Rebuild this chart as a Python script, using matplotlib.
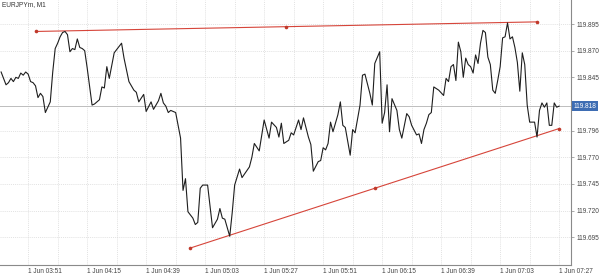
import pandas as pd
import matplotlib
matplotlib.use('Agg')
import matplotlib.pyplot as plt
import matplotlib.transforms as mtransforms

# EURJPYm M1 closes, minutes after 03:40 on 1 Jun
start = pd.Timestamp('2023-06-01 03:40')

minutes = [0, 2, 3, 4, 5, 6, 7, 8, 9, 10,
           11, 12, 13, 14, 15, 16, 17, 18, 20, 21,
           22, 23, 24, 25, 26, 27, 28, 29, 30, 31,
           32, 33, 34, 35, 37, 38, 40, 41, 42, 43,
           44, 46, 47, 49, 50, 52, 54, 55, 56, 58,
           59, 61, 62, 64, 65, 66, 67, 68, 69, 71,
           73, 74, 75, 76, 78, 79, 80, 81, 82, 84,
           86, 87, 88, 89, 90, 91, 93, 94, 95, 97,
           98, 101, 102, 103, 105, 107, 109, 110, 112, 113,
           114, 115, 117, 118, 119, 121, 122, 123, 125, 126,
           127, 129, 130, 131, 132, 133, 134, 135, 137, 138,
           139, 140, 142, 143, 144, 146, 147, 148, 150, 151,
           152, 154, 155, 156, 157, 158, 159, 161, 162, 163,
           165, 166, 167, 169, 170, 171, 172, 173, 174, 175,
           176, 178, 180, 181, 182, 183, 184, 185, 186, 187,
           188, 189, 190, 191, 192, 193, 194, 195, 196, 197,
           198, 199, 200, 201, 202, 203, 204, 205, 206, 207,
           208, 209, 210, 211, 212, 213, 214, 215, 216, 217,
           218, 219, 220, 221, 222, 223, 224, 225, 226, 227]

prices = [119.850, 119.838, 119.840, 119.844, 119.841, 119.845, 119.844, 119.849, 119.847, 119.850,
          119.848, 119.841, 119.840, 119.837, 119.826, 119.830, 119.827, 119.812, 119.822, 119.850,
          119.872, 119.877, 119.883, 119.887, 119.888, 119.885, 119.869, 119.872, 119.871, 119.881,
          119.873, 119.872, 119.870, 119.854, 119.819, 119.820, 119.824, 119.836, 119.835, 119.855,
          119.844, 119.868, 119.871, 119.877, 119.863, 119.841, 119.833, 119.831, 119.822, 119.829,
          119.813, 119.822, 119.815, 119.823, 119.830, 119.821, 119.818, 119.812, 119.814, 119.812,
          119.788, 119.739, 119.750, 119.719, 119.713, 119.707, 119.709, 119.741, 119.744, 119.744,
          119.704, 119.708, 119.712, 119.722, 119.713, 119.712, 119.696, 119.718, 119.744, 119.759,
          119.751, 119.761, 119.770, 119.783, 119.776, 119.805, 119.788, 119.803, 119.798, 119.789,
          119.802, 119.783, 119.786, 119.793, 119.791, 119.805, 119.796, 119.807, 119.789, 119.782,
          119.757, 119.766, 119.767, 119.779, 119.777, 119.783, 119.803, 119.794, 119.810, 119.822,
          119.800, 119.798, 119.772, 119.796, 119.793, 119.819, 119.847, 119.848, 119.830, 119.819,
          119.858, 119.869, 119.802, 119.812, 119.838, 119.794, 119.825, 119.814, 119.796, 119.788,
          119.811, 119.808, 119.800, 119.791, 119.792, 119.783, 119.796, 119.802, 119.810, 119.812,
          119.836, 119.833, 119.828, 119.844, 119.841, 119.855, 119.857, 119.842, 119.878, 119.869,
          119.845, 119.863, 119.857, 119.855, 119.849, 119.866, 119.858, 119.877, 119.889, 119.887,
          119.864, 119.857, 119.833, 119.830, 119.842, 119.855, 119.882, 119.883, 119.896, 119.881,
          119.883, 119.873, 119.859, 119.832, 119.868, 119.857, 119.819, 119.803, 119.803, 119.803,
          119.789, 119.814, 119.821, 119.817, 119.821, 119.800, 119.800, 119.821, 119.817, 119.818]

# trendlines (minute offset, price)
upper_min = [14, 218]
upper_price = [119.888, 119.897]
lower_min = [77, 227]
lower_price = [119.685, 119.797]

ytick_vals = [119.695, 119.720, 119.745, 119.770, 119.795, 119.845, 119.870, 119.895]
ytick_labels = ['119.695', '119.720', '119.745', '119.770', '119.796', '119.845', '119.870', '119.895']

times = start + pd.to_timedelta(minutes, unit='m')
last_price = prices[-1]

plt.rcParams['font.family'] = ['Liberation Sans', 'DejaVu Sans']

fig = plt.figure(figsize=(6, 2.76), dpi=100)
ax = fig.add_axes([0, 0.04, 0.952, 0.96])

grid_kw = dict(color='#d8d8d8', lw=0.5, ls=(0, (1.5, 1.5)), zorder=0)
xticks = pd.date_range('2023-06-01 03:51', periods=10, freq='24min')
xgrid = pd.date_range('2023-06-01 03:51', periods=20, freq='12min')
for g in xgrid:
    ax.axvline(g, **grid_kw)
for v in ytick_vals:
    ax.axhline(v, **grid_kw)

ax.axhline(last_price, color='#bdbdbd', lw=0.7, zorder=1)
ax.plot(times, prices, color='#1e1e1e', lw=0.8, zorder=3)

red = '#d6453a'
for mins, pr in [(upper_min, upper_price), (lower_min, lower_price)]:
    t = start + pd.to_timedelta(mins, unit='m')
    ax.plot(t, pr, color=red, lw=0.8, zorder=2)
    mid_t = t[0] + (t[1] - t[0]) / 2
    mid_p = (pr[0] + pr[1]) / 2
    ax.plot([t[0], mid_t, t[1]], [pr[0], mid_p, pr[1]], 'o', color='#c0392b',
            ms=2.6, mec='none', zorder=4)

ax.set_xlim(start - pd.Timedelta(seconds=27), start + pd.Timedelta(minutes=231.9))
ax.set_ylim(119.6691, 119.9175)

ax.set_xticks(xticks)
ax.set_xticklabels([t.strftime('1 Jun %H:%M') for t in xticks], ha='left')
ax.set_yticks(ytick_vals)
ax.set_yticklabels(ytick_labels)
ax.yaxis.tick_right()
ax.tick_params(axis='y', length=2, width=0.5, color='#888888', labelsize=4.7,
               labelcolor='#444444', pad=1.5)
ax.tick_params(axis='x', length=0, labelsize=4.7, labelcolor='#444444', pad=2.5)

for s in ['left', 'top']:
    ax.spines[s].set_visible(False)
for s in ['right', 'bottom']:
    ax.spines[s].set_color('#8a8a8a')
    ax.spines[s].set_linewidth(0.8)

trans = mtransforms.blended_transform_factory(ax.transAxes, ax.transData)
ax.text(1.004, last_price, f'{last_price:.3f}', transform=trans, ha='left', va='center',
        fontsize=4.7, color='white', zorder=5, clip_on=False,
        bbox=dict(boxstyle='square,pad=0.25', fc='#3e6db3', ec='none'))

ax.text(0.004, 0.995, 'EURJPYm, M1', transform=ax.transAxes, ha='left', va='top',
        fontsize=4.7, color='#333333')

fig.savefig('out.png', dpi=100)
